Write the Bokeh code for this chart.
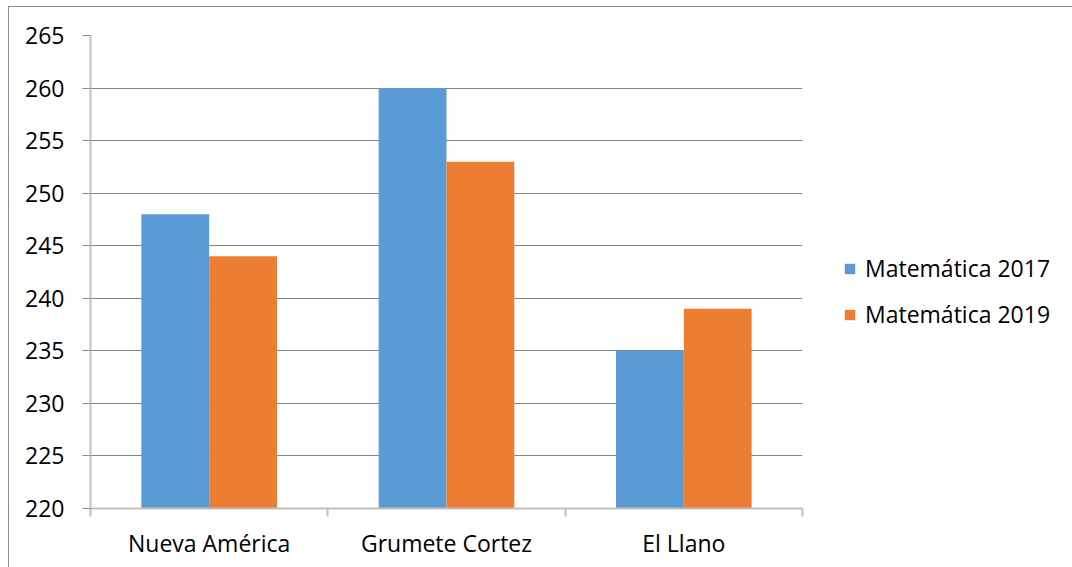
from bokeh.plotting import figure
from bokeh.models import ColumnDataSource, FixedTicker, Range1d, Legend, LegendItem
from bokeh.embed import file_html
from bokeh.resources import INLINE

categories = ["Nueva América", "Grumete Cortez", "El Llano"]
series_names = ["Matemática 2017", "Matemática 2019"]
mat_2017 = [248, 260, 235]
mat_2019 = [244, 253, 239]
y_ticks = [220, 225, 230, 235, 240, 245, 250, 255, 260, 265]
colors = ["#5B9BD5", "#ED7D31"]

FONT = "Open Sans"
FS = "23px"
BAR_W = 0.2857

p = figure(frame_width=712, frame_height=473, output_backend="svg", toolbar_location=None,
           x_range=Range1d(0, len(categories)), y_range=Range1d(220, 265),
           min_border_left=81, min_border_right=0, min_border_top=28, min_border_bottom=66)
p.styles = {"border": "1px solid #8c8c8c", "margin-left": "8px", "margin-top": "6px"}
p.outline_line_color = None
p.background_fill_color = "white"
p.border_fill_color = "white"

centers = [i + 0.5 for i in range(len(categories))]
src1 = ColumnDataSource(dict(x=[c - BAR_W / 2 for c in centers], top=mat_2017))
src2 = ColumnDataSource(dict(x=[c + BAR_W / 2 for c in centers], top=mat_2019))
r1 = p.vbar(x="x", top="top", bottom=220, width=BAR_W, source=src1, fill_color=colors[0], line_color=None)
r2 = p.vbar(x="x", top="top", bottom=220, width=BAR_W, source=src2, fill_color=colors[1], line_color=None)

# x axis: labels at category centers, ticks at boundaries
xa = p.xaxis[0]
xa.ticker = FixedTicker(ticks=centers, minor_ticks=list(range(len(categories) + 1)))
xa.major_label_overrides = {c: n for c, n in zip(centers, categories)}
xa.major_tick_out = 0
xa.major_tick_in = 0
xa.minor_tick_out = 8
xa.minor_tick_in = 0
xa.minor_tick_line_color = "#bfbfbf"
xa.minor_tick_line_width = 2
xa.axis_line_color = "#bfbfbf"
xa.axis_line_width = 2
xa.major_label_text_font = FONT
xa.major_label_text_font_size = FS
xa.major_label_text_color = "black"
xa.major_label_standoff = 10

ya = p.yaxis[0]
ya.ticker = FixedTicker(ticks=y_ticks, minor_ticks=[])
ya.major_tick_out = 8
ya.major_tick_in = 0
ya.major_tick_line_color = "#8c8c8c"
ya.axis_line_color = "#bfbfbf"
ya.axis_line_width = 2
ya.major_label_text_font = FONT
ya.major_label_text_font_size = FS
ya.major_label_text_color = "black"
ya.major_label_standoff = 18

p.xgrid.grid_line_color = None
p.ygrid.ticker = FixedTicker(ticks=y_ticks)
p.ygrid.grid_line_color = "#868686"
p.ygrid.grid_line_width = 1

legend = Legend(items=[LegendItem(label=series_names[0], renderers=[r1]),
                       LegendItem(label=series_names[1], renderers=[r2])],
                location=(41, 178))
legend.border_line_color = None
legend.background_fill_alpha = 0
legend.padding = 0
legend.margin = 0
legend.glyph_width = 13
legend.glyph_height = 13
legend.label_height = 24
legend.spacing = 14
legend.label_standoff = 9
legend.label_text_font = FONT
legend.label_text_font_size = FS
legend.label_text_color = "black"
legend.label_text_baseline = "middle"
p.add_layout(legend, "right")

open("out.html", "w").write(file_html(p, INLINE))
